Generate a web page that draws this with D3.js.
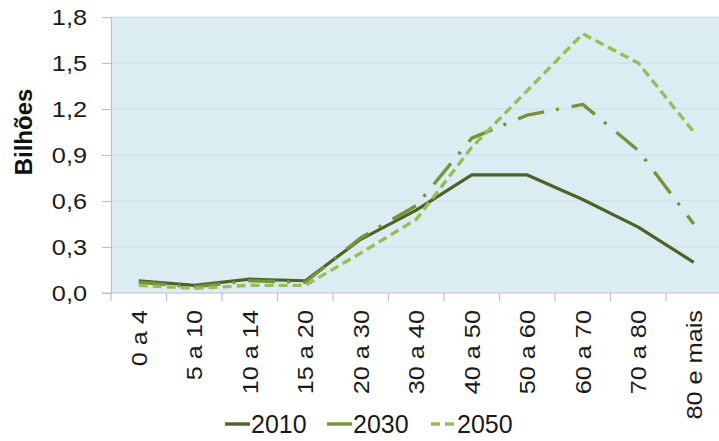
<!DOCTYPE html>
<html><head><meta charset="utf-8">
<script src="https://cdn.jsdelivr.net/npm/d3@7"></script>
<style>
html,body{margin:0;padding:0;background:#fff;}
svg{display:block;font-family:"Liberation Sans",Arial,sans-serif;}
</style></head>
<body><svg id="c" width="719" height="441"></svg>
<script>
const categories = ["0 a 4","5 a 10","10 a 14","15 a 20","20 a 30","30 a 40","40 a 50","50 a 60","60 a 70","70 a 80","80 e mais"];
const series2010 = [0.08,0.05,0.09,0.08,0.35,0.54,0.77,0.77,0.61,0.43,0.20];
const series2030 = [0.07,0.04,0.08,0.07,0.36,0.57,1.01,1.16,1.23,0.93,0.45];
const series2050 = [0.05,0.03,0.05,0.05,0.26,0.48,0.95,1.32,1.69,1.50,1.05];
const seriesNames = ["2010","2030","2050"];
const yTicks = [0,0.3,0.6,0.9,1.2,1.5,1.8];
const yTickLabels = ["0,0","0,3","0,6","0,9","1,2","1,5","1,8"];
const yTitle = "Bilhões";

(function(){
const colors = {"2010":"#4d6325","2030":"#76933c","2050":"#9bbb59"};
const dashes = {"2010":null,"2030":"27,12,3,13","2050":"9,5"};
const widths = {"2010":3.2,"2030":3.4,"2050":3.4};

const svg = d3.select("#c");
const pLeft = 111, pTop = 17, pBottom = 293;
const band = 55.5;
const pRight = pLeft + band*categories.length;

const x = d3.scaleBand().domain(categories).range([pLeft,pRight]).padding(0);
const y = d3.scaleLinear().domain([0,1.8]).range([pBottom,pTop]);

svg.append("rect").attr("x",pLeft).attr("y",pTop).attr("width",pRight-pLeft).attr("height",pBottom-pTop)
  .attr("fill","#dbedf3");

svg.append("g").selectAll("line").data(yTicks.slice(1)).join("line")
  .attr("x1",pLeft).attr("x2",pRight).attr("y1",d=>y(d)).attr("y2",d=>y(d))
  .attr("stroke","#cddfe6").attr("stroke-width",1.2);
svg.append("line").attr("x1",pLeft).attr("x2",pRight).attr("y1",pTop+0.5).attr("y2",pTop+0.5).attr("stroke","#d6e4ea");

const yAxis = svg.append("g").attr("transform",`translate(${pLeft},0)`)
  .call(d3.axisLeft(y).tickValues(yTicks).tickFormat((d,i)=>yTickLabels[i]).tickSize(9).tickPadding(15));
yAxis.select(".domain").attr("stroke","#bfbfbf").attr("stroke-width",1.2);
yAxis.selectAll(".tick line").attr("stroke","#bfbfbf").attr("stroke-width",1.2);
yAxis.selectAll(".tick text").attr("font-size",22).attr("fill","#1a1a1a")
  .attr("font-family","'Liberation Sans',Arial,sans-serif")
  .attr("transform",function(){const xx=+d3.select(this).attr("x");return `translate(${xx},0) scale(1.15,1) translate(${-xx},0)`;});

const xAxis = svg.append("g").attr("transform",`translate(0,${pBottom})`)
  .call(d3.axisBottom(x).tickSize(0).tickFormat(d=>d));
xAxis.select(".domain").remove();
svg.append("line").attr("x1",pLeft-9).attr("x2",pRight).attr("y1",pBottom).attr("y2",pBottom).attr("stroke","#bfbfbf").attr("stroke-width",1.2);
const boundaries = categories.map(c=>x(c)).concat([x(categories[categories.length-1])+x.bandwidth()]);
svg.append("g").selectAll("line").data(boundaries).join("line")
  .attr("x1",d=>d).attr("x2",d=>d).attr("y1",pBottom).attr("y2",pBottom+8)
  .attr("stroke","#bfbfbf").attr("stroke-width",1.2);
xAxis.selectAll(".tick text")
  .attr("font-size",22).attr("fill","#1a1a1a").attr("font-family","'Liberation Sans',Arial,sans-serif")
  .attr("text-anchor","end").attr("x",0).attr("y",0).attr("dy","0.36em")
  .attr("transform","translate(0,17) rotate(-90) scale(1.15,1)");

const data = {"2010":series2010,"2030":series2030,"2050":series2050};
const line = d3.line().x((d,i)=>x(categories[i])+x.bandwidth()/2).y(d=>y(d));
seriesNames.forEach(s=>{
  svg.append("path").datum(data[s]).attr("d",line)
    .attr("fill","none").attr("stroke",colors[s]).attr("stroke-width",widths[s])
    .attr("stroke-dasharray",dashes[s]).attr("stroke-linejoin","round");
});

svg.append("text").attr("transform","translate(32,132) rotate(-90)")
  .attr("text-anchor","middle").attr("font-size",24).attr("font-weight","bold").attr("fill","#111")
  .text(yTitle);

const legendX = [225,327,431];
const lg = svg.append("g");
seriesNames.forEach((name,i)=>{
  const lx = legendX[i];
  lg.append("line").attr("x1",lx).attr("x2",lx+25).attr("y1",424).attr("y2",424)
    .attr("stroke",colors[name]).attr("stroke-width",3.4)
    .attr("stroke-dasharray",name==="2050"?"9,5":null);
  lg.append("text").attr("x",lx+26).attr("y",433).attr("font-size",25).attr("fill","#1a1a1a")
    .text(name);
});
})();
</script></body></html>
